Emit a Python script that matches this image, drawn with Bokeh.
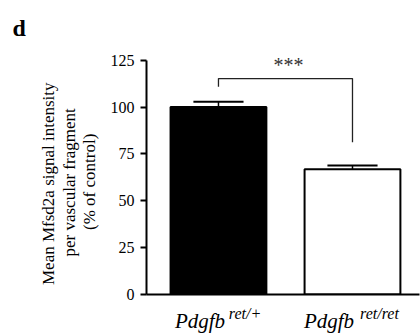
from bokeh.plotting import figure
from bokeh.models import Label, FixedTicker, Range1d, LinearAxis, Title
from bokeh.embed import file_html
from bokeh.resources import INLINE

# ---- data ----
gene = ["Pdgfb", "Pdgfb"]
genotype = ["ret/+", "ret/ret"]
x_pos = [1, 2]
means = [100.0, 66.8]
sem = [2.8, 2.1]
bar_colors = ["black", "white"]
y_ticks = [0, 25, 50, 75, 100, 125]
sig_text = "***"
bracket_top = 115.2
bracket_left_low = 110.8
bracket_right_low = 81.2
ylabel_lines = ["Mean Mfsd2a signal intensity", "per vascular fragment", "(% of control)"]
panel_letter = "d"

FONT = "Liberation Serif"
PX_PER_UNIT = 134.0

p = figure(width=420, height=335,
           x_range=Range1d(0.463, 2.5), y_range=Range1d(0, 127),
           output_backend="svg", toolbar_location=None,
           min_border_left=146, min_border_right=1,
           min_border_top=56, min_border_bottom=38)
p.outline_line_color = None
p.xgrid.visible = False
p.ygrid.visible = False
p.background_fill_color = "white"

# panel letter as the plot title
p.title.text = panel_letter
p.title.align = "left"
p.title.offset = -134
p.title.text_font = FONT
p.title.text_font_size = "24px"
p.title.text_font_style = "bold"
p.title.text_color = "black"
p.title.vertical_align = "top"
p.title.standoff = 27

# y axis (line, ticks, tick labels)
ya = p.yaxis[0]
ya.ticker = FixedTicker(ticks=y_ticks)
ya.bounds = (0, 125)
ya.axis_line_width = 2
ya.axis_line_color = "black"
ya.major_tick_line_width = 2
ya.major_tick_out = 6
ya.major_tick_in = 0
ya.minor_tick_line_color = None
ya.major_label_text_font = FONT
ya.major_label_text_font_size = "16px"
ya.major_label_text_color = "black"
ya.major_label_standoff = 6

# y axis title: three rotated lines, innermost first
# (offset, vertical_align, standoff) per line, innermost line first
ylabel_style = [(64.5, "top", 13), (38, "bottom", -10), (9.5, "bottom", 10)]
for line, (off, va, so) in zip(reversed(ylabel_lines), ylabel_style):
    p.add_layout(Title(text=line, align="left", offset=off, vertical_align=va,
                       standoff=so, text_font=FONT, text_font_size="17px",
                       text_font_style="normal", text_color="black"), "left")

# x axis (line + superscript genotype labels)
sup_shift_px = [26.5, 27.0]
base_shift_px = [-18.5, -23.5]
sup_ticks = [round(x + s / PX_PER_UNIT, 3) for x, s in zip(x_pos, sup_shift_px)]
base_ticks = [round(x + s / PX_PER_UNIT, 3) for x, s in zip(x_pos, base_shift_px)]

xa = p.xaxis[0]
xa.ticker = FixedTicker(ticks=sup_ticks)
xa.major_label_overrides = {t: s for t, s in zip(sup_ticks, genotype)}
xa.axis_line_width = 2
xa.axis_line_color = "black"
xa.major_tick_line_color = None
xa.major_tick_out = 0
xa.major_tick_in = 0
xa.minor_tick_line_color = None
xa.major_label_text_font = FONT
xa.major_label_text_font_size = "16px"
xa.major_label_text_font_style = "italic"
xa.major_label_text_color = "black"
xa.major_label_standoff = 10

xb = LinearAxis(ticker=FixedTicker(ticks=base_ticks),
                major_label_overrides={t: g for t, g in zip(base_ticks, gene)},
                axis_line_color=None, major_tick_line_color=None,
                minor_tick_line_color=None, major_tick_out=0, major_tick_in=0,
                major_label_text_font=FONT, major_label_text_font_size="21px",
                major_label_text_font_style="italic", major_label_text_color="black",
                major_label_standoff=-16)
p.add_layout(xb, "below")

# bars
p.vbar(x=x_pos, top=means, bottom=0, width=0.715,
       fill_color=bar_colors, line_color="black", line_width=2)

# error bars (upper only)
upper = [m + s for m, s in zip(means, sem)]
p.segment(x0=x_pos, y0=means, x1=x_pos, y1=upper, line_color="black", line_width=1.5)
cap = 0.187
p.segment(x0=[x - cap for x in x_pos], y0=upper, x1=[x + cap for x in x_pos], y1=upper,
          line_color="black", line_width=2)

# significance bracket
p.line(x=[x_pos[0], x_pos[0], x_pos[1], x_pos[1]],
       y=[bracket_left_low, bracket_top, bracket_top, bracket_right_low],
       line_color="#222222", line_width=1.3)
p.add_layout(Label(x=(x_pos[0] + x_pos[1]) / 2, y=122.6, x_offset=3, text=sig_text,
                   text_font=FONT, text_font_size="20px", text_color="#333333",
                   text_align="center", text_baseline="alphabetic"))

open("out.html", "w").write(file_html(p, INLINE))
